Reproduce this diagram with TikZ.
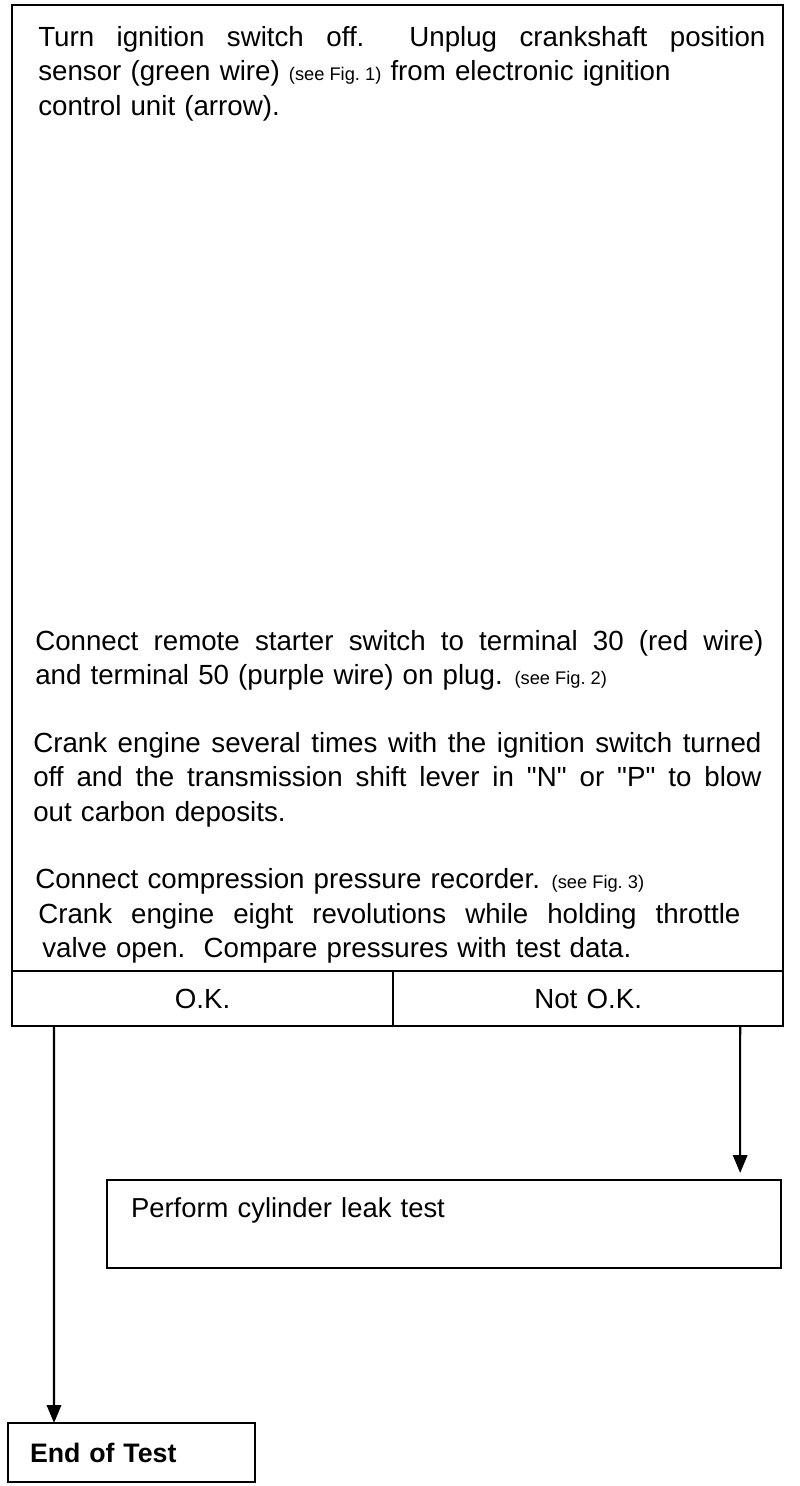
\documentclass[tikz,border=0pt]{standalone}
\usepackage{fontspec}
\setmainfont{Liberation Sans}
\usetikzlibrary{positioning,arrows.meta}

\newcommand{\seefig}[1]{{\fontsize{13}{14}\selectfont\spaceskip=0pt(see Fig.~#1)}}
\newcommand{\stepfont}{\fontsize{19.7}{24.5}\selectfont\spaceskip=0.33em plus 1em minus 0.08em\relax}

\begin{document}
\begin{tikzpicture}[
  x=0.025cm, y=-0.025cm,
  frame/.style={draw, line width=1.5pt, inner sep=0pt, outer sep=0pt},
  steptext/.style={anchor=north west, inner sep=0pt, font=\stepfont},
  cell/.style={frame, minimum height=1.375cm, font=\stepfont},
  flow/.style={-{Triangle[length=0.45cm,width=0.36cm]}, line width=1.5pt}
]
\useasboundingbox (0,0) rectangle (800,1486);
% test steps
\node[frame, anchor=north west, minimum width=19.275cm, minimum height=24.15cm] (steps) at (12,5) {};
\node[steptext, text width=18.175cm, align=justify] (unplug) at (38,26) {Turn ignition switch off.\ \ Unplug crankshaft position\linebreak sensor (green wire) \seefig{1} from electronic ignition\\control unit (arrow).};
\node[steptext, text width=18.2cm, align=justify] (remote) at (35,630) {Connect remote starter switch to terminal 30 (red wire)\linebreak and terminal 50 (purple wire) on plug. \seefig{2}};
\node[steptext, text width=18.2cm, align=justify] (crank) at (33,732) {Crank engine several times with the ignition switch turned\linebreak off and the transmission shift lever in \textquotedbl N\textquotedbl\ or \textquotedbl P\textquotedbl\ to blow\linebreak out carbon deposits.};
\node[steptext] (recorder) at (35,868) {Connect compression pressure recorder. \seefig{3}};
\node[steptext, text width=17.55cm, align=justify] (compare) at (38,903) {Crank engine eight revolutions while holding throttle\linebreak\hspace*{0.1cm}valve open.\ \ Compare pressures with test data.};
% result
\node[cell, anchor=north west, minimum width=9.525cm] (ok) at (steps.south west) {O.K.};
\node[cell, right=0pt of ok, minimum width=9.75cm] (notok) {Not O.K.};
% next steps
\node[frame, anchor=north west, text width=15.65cm, inner xsep=0.6cm, inner ysep=0.425cm, text height=0.5cm, text depth=0.85cm, align=left, font=\fontsize{19.5}{24}\selectfont] (leak) at (107,1180) {Perform cylinder leak test};
\node[frame, anchor=north west, text width=5.075cm, inner xsep=0.55cm, minimum height=1.475cm, align=left, font=\fontsize{19}{22}\selectfont\bfseries] (endtest) at (8,1423) {End of Test};
\draw[flow] ([xshift=1.05cm]ok.south west) -- ([xshift=1.15cm]endtest.north west);
\draw[flow, shorten >=0.175cm] ([xshift=-1.075cm]notok.south east) -- ([xshift=-1.025cm]leak.north east);
\end{tikzpicture}
\end{document}
